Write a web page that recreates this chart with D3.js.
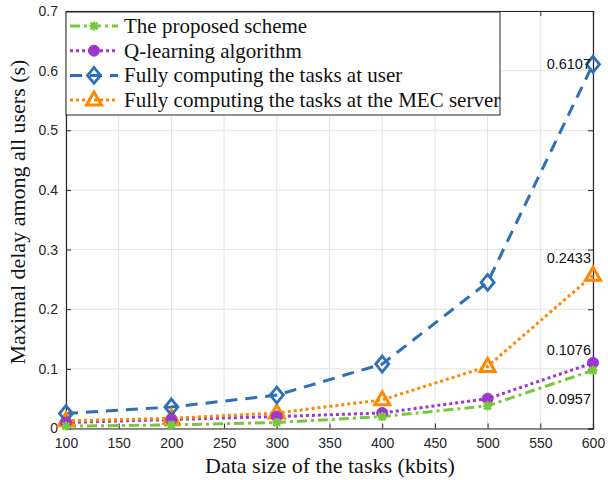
<!DOCTYPE html>
<html><head><meta charset="utf-8">
<script src="https://cdn.jsdelivr.net/npm/d3@7"></script>
<style>body{margin:0;background:#fff}svg{display:block}</style>
</head><body><svg id="c" width="608" height="480"></svg>
<script>
const dataSizes = [100, 200, 300, 400, 500, 600];
const proposed = [0.004, 0.006, 0.010, 0.020, 0.038, 0.0975];
const qlearning = [0.010, 0.015, 0.020, 0.026, 0.050, 0.110];
const userLocal = [0.025, 0.036, 0.056, 0.108, 0.245, 0.6107];
const mecServer = [0.013, 0.017, 0.026, 0.048, 0.104, 0.257];
const xTicks = [100, 150, 200, 250, 300, 350, 400, 450, 500, 550, 600];
const yTicks = [0, 0.1, 0.2, 0.3, 0.4, 0.5, 0.6, 0.7];
const seriesNames = ["The proposed scheme", "Q-learning algorithm", "Fully computing the tasks at user", "Fully computing the tasks at the MEC server"];
const annotations = [["0.6107", 0.6107], ["0.2433", 0.2433], ["0.1076", 0.1076], ["0.0957", 0.0957]];

const SANS = "'Liberation Sans', Arial, Helvetica, sans-serif";
const SERIF = "'Liberation Serif', 'Times New Roman', Times, serif";

const svg = d3.select("#c");
const L = 66, R = 593, T = 11, B = 428.5;
const x = d3.scaleLinear().domain([100, 600]).range([L, R]);
const y = d3.scaleLinear().domain([0, 0.7]).range([B, T]);

// grid
const g = svg.append("g");
g.selectAll(".gx").data(xTicks).join("line").attr("x1", d => x(d)).attr("x2", d => x(d)).attr("y1", T).attr("y2", B).attr("stroke", "#e3e3e3").attr("stroke-width", 1);
g.selectAll(".gy").data(yTicks).join("line").attr("y1", d => y(d)).attr("y2", d => y(d)).attr("x1", L).attr("x2", R).attr("stroke", "#e3e3e3").attr("stroke-width", 1);

// axes
const axStyle = sel => {
  sel.selectAll("text").style("font-family", SANS).style("font-size", "14px").attr("fill", "#262626");
  sel.selectAll("line").attr("stroke", "#262626");
  sel.select(".domain").attr("stroke", "#262626");
};
svg.append("g").attr("transform", `translate(0,${B})`)
  .call(d3.axisBottom(x).tickValues(xTicks).tickSize(-5).tickPadding(10).tickFormat(d3.format("d")))
  .call(axStyle);
svg.append("g").attr("transform", `translate(${L},0)`)
  .call(d3.axisLeft(y).tickValues(yTicks).tickSize(-5).tickPadding(8).tickFormat(d => d === 0 ? "0" : d3.format(".1f")(d)))
  .call(axStyle);
svg.append("g").attr("transform", `translate(0,${T})`)
  .call(d3.axisTop(x).tickValues(xTicks).tickSize(-5).tickFormat(""))
  .call(axStyle);
svg.append("g").attr("transform", `translate(${R},0)`)
  .call(d3.axisRight(y).tickValues(yTicks).tickSize(-5).tickFormat(""))
  .call(axStyle);
svg.selectAll(".domain").attr("stroke-width", 1.2);

const series = [
  {name: seriesNames[0], vals: proposed, color: "#77c83a", dash: "10,4,3,4", marker: "star"},
  {name: seriesNames[1], vals: qlearning, color: "#9d35d3", dash: "3,3", marker: "circle"},
  {name: seriesNames[2], vals: userLocal, color: "#2f6fb6", dash: "12,8", marker: "diamond"},
  {name: seriesNames[3], vals: mecServer, color: "#ff8800", dash: "3,3", marker: "triangle"}
];
const line = d3.line().x((d, i) => x(dataSizes[i])).y(d => y(d));

function drawMarker(sel, type, color) {
  if (type === "circle") {
    sel.append("circle").attr("r", 5.5).attr("fill", color).attr("stroke", color);
  } else if (type === "diamond") {
    sel.append("path").attr("d", "M0,-8L6.5,0L0,8L-6.5,0Z").attr("fill", "none").attr("stroke", color).attr("stroke-width", 2.8);
  } else if (type === "triangle") {
    sel.append("path").attr("d", "M0,-8L7.5,5L-7.5,5Z").attr("fill", "none").attr("stroke", color).attr("stroke-width", 3).attr("stroke-linejoin", "miter");
  } else {
    sel.append("path").attr("d", "M-3.5,-3.5L3.5,3.5M-3.5,3.5L3.5,-3.5M0,-4.5L0,4.5M-4.5,0L4.5,0").attr("stroke", color).attr("stroke-width", 2.4);
  }
}

const sg = svg.append("g");
series.forEach(s => {
  sg.append("path").datum(s.vals).attr("d", line).attr("fill", "none").attr("stroke", s.color).attr("stroke-width", 3).attr("stroke-dasharray", s.dash);
});
series.slice().reverse().forEach(s => {
  s.vals.forEach((v, i) => {
    const m = sg.append("g").attr("transform", `translate(${x(dataSizes[i])},${y(v)})`);
    drawMarker(m, s.marker, s.color);
  });
});

// annotations
const annY = [64, 258, 350, 399];
annotations.forEach((a, i) => {
  svg.append("text").attr("x", 591).attr("y", annY[i]).attr("dy", "0.35em").attr("text-anchor", "end")
    .style("font-family", SANS).style("font-size", "14.5px").attr("fill", "#111").text(a[0]);
});

// legend
const lg = svg.append("g");
lg.append("rect").attr("x", 66).attr("y", 12).attr("width", 434).attr("height", 103).attr("fill", "#fff").attr("stroke", "#262626").attr("stroke-width", 1);
series.forEach((s, i) => {
  const yy = 26 + i * 24.7;
  lg.append("line").attr("x1", 70).attr("x2", 118).attr("y1", yy).attr("y2", yy).attr("stroke", s.color).attr("stroke-width", 3).attr("stroke-dasharray", s.dash);
  const m = lg.append("g").attr("transform", `translate(94,${yy})`);
  drawMarker(m, s.marker, s.color);
  lg.append("text").attr("x", 124).attr("y", yy).attr("dy", "0.33em").style("font-family", SERIF).style("font-size", "21px").attr("fill", "#111").text(s.name);
});

// axis labels
svg.append("text").attr("x", 330).attr("y", 473).attr("text-anchor", "middle").style("font-family", SERIF).style("font-size", "22px").attr("fill", "#111").text("Data size of the tasks (kbits)");
svg.append("text").attr("transform", "translate(25,212) rotate(-90)").attr("text-anchor", "middle").style("font-family", SERIF).style("font-size", "22px").attr("fill", "#111").text("Maximal delay among all users (s)");
</script></body></html>
